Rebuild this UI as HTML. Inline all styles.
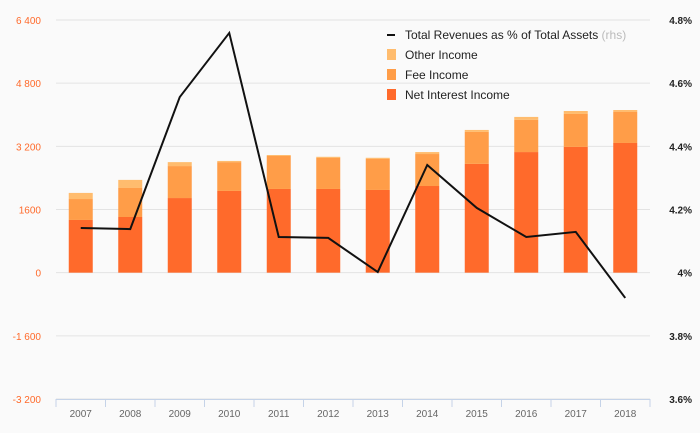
<!DOCTYPE html>
<html><head><meta charset="utf-8"><style>
html,body{margin:0;padding:0;background:#fafafa;}
svg{display:block;font-family:"Liberation Sans",sans-serif;}
</style></head><body>
<svg id="chart" width="700" height="433"></svg>
<script>
const categories=["2007","2008","2009","2010","2011","2012","2013","2014","2015","2016","2017","2018"];
const netInterest=[1335,1410,1890,2070,2120,2120,2095,2195,2755,3055,3185,3285];
const feeIncome=[530,735,810,730,835,785,785,810,810,815,835,785];
const otherIncome=[155,205,100,30,25,30,30,50,50,75,75,50];
const revPct=[4.1415,4.138,4.556,4.759,4.113,4.110,4.002,4.341,4.205,4.113,4.129,3.92];
const leftTicks=[-3200,-1600,0,1600,3200,4800,6400];
const leftTickLabels=["-3 200","-1 600","0","1600","3 200","4 800","6 400"];
const rightTicks=[3.6,3.8,4.0,4.2,4.4,4.6,4.8];
const rightTickLabels=["3.6%","3.8%","4%","4.2%","4.4%","4.6%","4.8%"];

const NS="http://www.w3.org/2000/svg";
const svg=document.getElementById('chart');
const X0=56,X1=650,YT=20,YB=399;
const step=(X1-X0)/categories.length;
const xc=i=>X0+step*(i+0.5);
const yL=v=>YB-(v-(-3200))/(9600)*(YB-YT);
const yR=v=>YB-(v-3.6)/1.2*(YB-YT);
function el(t,a,p){const e=document.createElementNS(NS,t);for(const k in a)e.setAttribute(k,a[k]);(p||svg).appendChild(e);return e;}

leftTicks.forEach((t,i)=>{
  const g=el('line',{x1:X0,x2:X1,y1:yL(t),y2:yL(t),stroke:'#e3e3e3','stroke-width':1});
  
  
  const tx=el('text',{x:41,y:yL(t)+4,'text-anchor':'end','font-size':10,fill:'#ff6a2b'});
  tx.textContent=leftTickLabels[i];
  
  
});
rightTicks.forEach((t,i)=>{
  const tx=el('text',{x:692,y:yR(t)+4,'text-anchor':'end','font-size':10,'font-weight':'bold',fill:'#222'});
  tx.textContent=rightTickLabels[i];
  
  
});
const ax=el('line',{x1:X0,x2:X1,y1:YB+0.5,y2:YB+0.5,stroke:'#c5d3e8'});


for(let i=0;i<=categories.length;i++){
  const tk=el('line',{x1:X0+step*i,x2:X0+step*i,y1:YB,y2:YB+8,stroke:'#c5d3e8'});
  
  
}
const bw=24;
categories.forEach((c,i)=>{
  const x=xc(i)-bw/2;
  const a=netInterest[i],b=a+feeIncome[i],d=b+otherIncome[i];
  const r1=el('rect',{x:x,y:yL(a),width:bw,height:yL(0)-yL(a),fill:'#ff6a2b'});
  
  
  const r2=el('rect',{x:x,y:yL(b),width:bw,height:yL(a)-yL(b),fill:'#ff9d48'});
  
  
  const r3=el('rect',{x:x,y:yL(d),width:bw,height:yL(b)-yL(d),fill:'#ffbc6e'});
  
  
  const t=el('text',{x:xc(i),y:417,'text-anchor':'middle','font-size':10,fill:'#666'});
  t.textContent=c;
  
  
});
const pts=revPct.map((v,i)=>xc(i)+','+yR(v)).join(' ');
const pl=el('polyline',{points:pts,fill:'none',stroke:'#111','stroke-width':2,'stroke-linejoin':'miter'});



const lg=el('g',{});


const items=[["line","#111","Total Revenues as % of Total Assets"],["box","#ffbc6e","Other Income"],["box","#ff9d48","Fee Income"],["box","#ff6a2b","Net Interest Income"]];
items.forEach((it,k)=>{
  const y=35+k*20;
  if(it[0]==='line'){el('rect',{x:387,y:y-1,width:8,height:2,fill:it[1]},lg);}
  else{el('rect',{x:387,y:y-6,width:9,height:11,fill:it[1]},lg);}
  const t=el('text',{x:405,y:y+4,'font-size':12,fill:'#222'},lg);
  t.textContent=it[2];
  
  
  if(k===0){const s=el('tspan',{fill:'#bbb'},t);s.textContent=' (rhs)';}
});
</script>
</body></html>
